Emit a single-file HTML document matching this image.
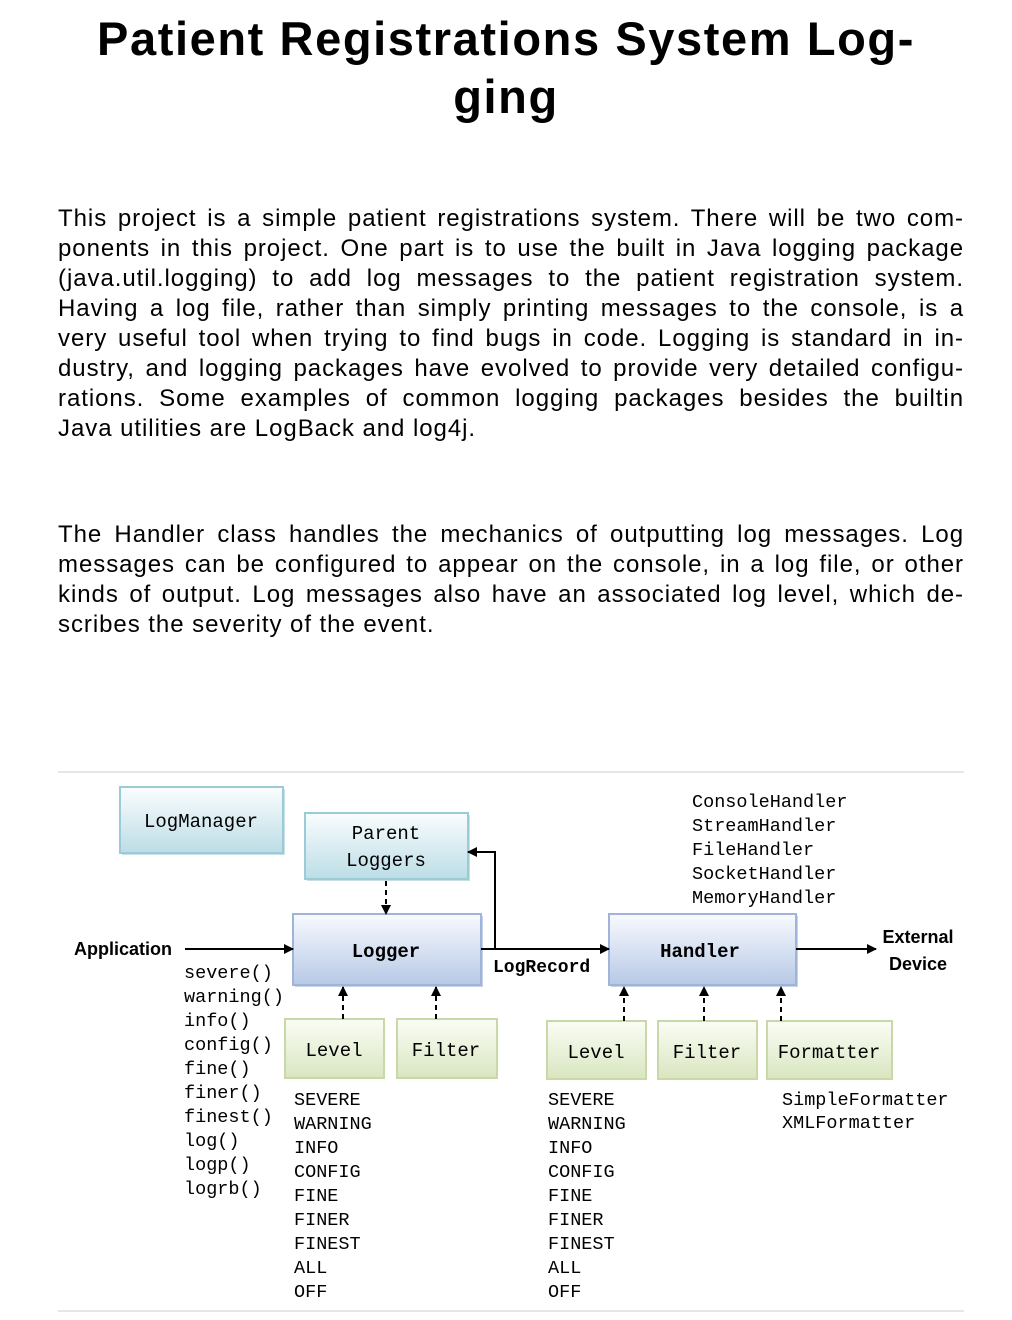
<!DOCTYPE html>
<html><head><meta charset="utf-8"><style>
body{margin:0;background:#fff;width:1012px;height:1320px;position:relative;font-family:"Liberation Sans",sans-serif;color:#000}
h1{position:absolute;left:0;width:1012px;top:10px;margin:0;text-align:center;font-size:47px;line-height:58px;font-weight:bold;letter-spacing:1.6px}
.p{position:absolute;left:58px;width:906px;font-size:24px;line-height:30px;letter-spacing:0.95px}
.p div{text-align:justify;text-align-last:justify;white-space:nowrap;height:30px}
.p div.l{text-align-last:left}
svg{position:absolute;left:0;top:0}
.m{font-family:"Liberation Mono",monospace;font-size:18.5px}
.b{font-family:"Liberation Sans",sans-serif;font-weight:bold;font-size:18px}
</style></head><body>
<h1>Patient Registrations System Log-<br>ging</h1>
<div class="p" style="top:204px">
<div>This project is a simple patient registrations system. There will be two com-</div>
<div>ponents in this project. One part is to use the built in Java logging package</div>
<div>(java.util.logging) to add log messages to the patient registration system.</div>
<div>Having a log file, rather than simply printing messages to the console, is a</div>
<div>very useful tool when trying to find bugs in code. Logging is standard in in-</div>
<div>dustry, and logging packages have evolved to provide very detailed configu-</div>
<div>rations. Some examples of common logging packages besides the builtin</div>
<div class="l">Java utilities are LogBack and log4j.</div>
</div>
<div class="p" style="top:520px">
<div>The Handler class handles the mechanics of outputting log messages. Log</div>
<div>messages can be configured to appear on the console, in a log file, or other</div>
<div>kinds of output. Log messages also have an associated log level, which de-</div>
<div class="l">scribes the severity of the event.</div>
</div>
<svg width="1012" height="1320" viewBox="0 0 1012 1320">
<defs>
<linearGradient id="gb" x1="0" y1="0" x2="0" y2="1"><stop offset="0" stop-color="#fafdfe"/><stop offset="1" stop-color="#bcdde6"/></linearGradient>
<linearGradient id="gp" x1="0" y1="0" x2="0" y2="1"><stop offset="0" stop-color="#f8faff"/><stop offset="1" stop-color="#b7c9e6"/></linearGradient>
<linearGradient id="gg" x1="0" y1="0" x2="0" y2="1"><stop offset="0" stop-color="#fbfdf6"/><stop offset="1" stop-color="#d9e6c0"/></linearGradient>
<marker id="a" markerWidth="10" markerHeight="10" refX="9" refY="5" orient="auto" markerUnits="userSpaceOnUse"><path d="M0,0 L10,5 L0,10 z" fill="#000"/></marker>
</defs>
<line x1="58" y1="772" x2="964" y2="772" stroke="#e6e6e6" stroke-width="2"/>
<line x1="58" y1="1311" x2="964" y2="1311" stroke="#e6e6e6" stroke-width="2"/>
<g stroke-width="2">
<rect x="122" y="789" width="163" height="66" fill="#c8dfe6"/>
<rect x="120" y="787" width="163" height="66" fill="url(#gb)" stroke="#9ccbd8"/>
<rect x="307" y="815" width="163" height="66" fill="#c8dfe6"/>
<rect x="305" y="813" width="163" height="66" fill="url(#gb)" stroke="#9ccbd8"/>
<rect x="295" y="916" width="188" height="71" fill="#c6d2e6"/>
<rect x="293" y="914" width="188" height="71" fill="url(#gp)" stroke="#9fb4d8"/>
<rect x="611" y="916" width="187" height="71" fill="#c6d2e6"/>
<rect x="609" y="914" width="187" height="71" fill="url(#gp)" stroke="#9fb4d8"/>
<g stroke="#c8d8a8">
<rect x="285" y="1019" width="99" height="59" fill="url(#gg)"/>
<rect x="397" y="1019" width="100" height="59" fill="url(#gg)"/>
<rect x="547" y="1021" width="99" height="58" fill="url(#gg)"/>
<rect x="658" y="1021" width="99" height="58" fill="url(#gg)"/>
<rect x="767" y="1021" width="125" height="58" fill="url(#gg)"/>
</g>
</g>
<g stroke="#000" stroke-width="2" fill="none">
<line x1="185" y1="949" x2="293" y2="949" marker-end="url(#a)"/>
<line x1="481" y1="949" x2="609" y2="949" marker-end="url(#a)"/>
<polyline points="495,949 495,852 468,852" marker-end="url(#a)"/>
<line x1="796" y1="949" x2="876" y2="949" marker-end="url(#a)"/>
<g stroke-dasharray="5,4">
<line x1="386" y1="881" x2="386" y2="914" marker-end="url(#a)"/>
<line x1="343" y1="1019" x2="343" y2="987" marker-end="url(#a)"/>
<line x1="436" y1="1019" x2="436" y2="987" marker-end="url(#a)"/>
<line x1="624" y1="1021" x2="624" y2="987" marker-end="url(#a)"/>
<line x1="704" y1="1021" x2="704" y2="987" marker-end="url(#a)"/>
<line x1="781" y1="1021" x2="781" y2="987" marker-end="url(#a)"/>
</g>
</g>
<g class="m" fill="#000">
<text x="201" y="827" text-anchor="middle" font-size="19">LogManager</text>
<text x="386" y="839" text-anchor="middle" font-size="19">Parent</text>
<text x="386" y="866" text-anchor="middle" font-size="19">Loggers</text>
<text x="334" y="1056" text-anchor="middle" font-size="19">Level</text>
<text x="446" y="1056" text-anchor="middle" font-size="19">Filter</text>
<text x="596" y="1058" text-anchor="middle" font-size="19">Level</text>
<text x="707" y="1058" text-anchor="middle" font-size="19">Filter</text>
<text x="829" y="1058" text-anchor="middle" font-size="19">Formatter</text>
<text x="692" y="807">ConsoleHandler</text>
<text x="692" y="831">StreamHandler</text>
<text x="692" y="855">FileHandler</text>
<text x="692" y="879">SocketHandler</text>
<text x="692" y="903">MemoryHandler</text>
<text x="184" y="978">severe()</text>
<text x="184" y="1002">warning()</text>
<text x="184" y="1026">info()</text>
<text x="184" y="1050">config()</text>
<text x="184" y="1074">fine()</text>
<text x="184" y="1098">finer()</text>
<text x="184" y="1122">finest()</text>
<text x="184" y="1146">log()</text>
<text x="184" y="1170">logp()</text>
<text x="184" y="1194">logrb()</text>
<g>
<text x="294" y="1105">SEVERE</text><text x="294" y="1129">WARNING</text><text x="294" y="1153">INFO</text><text x="294" y="1177">CONFIG</text><text x="294" y="1201">FINE</text><text x="294" y="1225">FINER</text><text x="294" y="1249">FINEST</text><text x="294" y="1273">ALL</text><text x="294" y="1297">OFF</text>
<text x="548" y="1105">SEVERE</text><text x="548" y="1129">WARNING</text><text x="548" y="1153">INFO</text><text x="548" y="1177">CONFIG</text><text x="548" y="1201">FINE</text><text x="548" y="1225">FINER</text><text x="548" y="1249">FINEST</text><text x="548" y="1273">ALL</text><text x="548" y="1297">OFF</text>
</g>
<text x="782" y="1105">SimpleFormatter</text>
<text x="782" y="1128">XMLFormatter</text>
<text x="386" y="957" text-anchor="middle" font-weight="bold" font-size="19">Logger</text>
<text x="700" y="957" text-anchor="middle" font-weight="bold" font-size="19">Handler</text>
<text x="493" y="972" font-weight="bold" font-size="18">LogRecord</text>
</g>
<g class="b" fill="#000">
<text x="74" y="955">Application</text>
<text x="918" y="943" text-anchor="middle">External</text>
<text x="918" y="970" text-anchor="middle">Device</text>
</g>
</svg>
</body></html>
